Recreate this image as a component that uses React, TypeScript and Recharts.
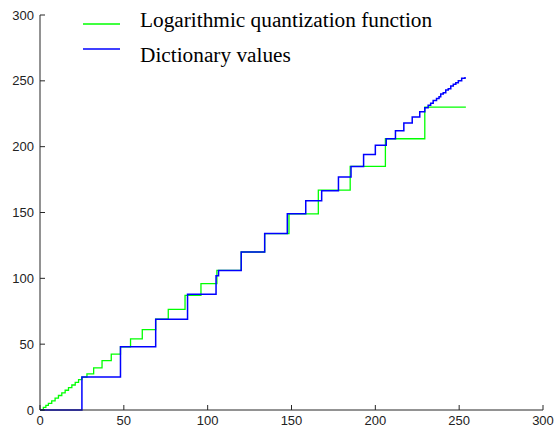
import React from 'react';
import { LineChart, Line, XAxis, YAxis } from 'recharts';

const xTicks = [0, 50, 100, 150, 200, 250, 300];
const yTicks = [0, 50, 100, 150, 200, 250, 300];

// logarithmic quantization function (step starts)
const greenX = [0, 2, 3.5, 5, 7, 9, 11, 13, 15, 17, 19, 21, 23, 25, 28, 32, 37, 42.5, 48, 54, 61, 69, 76.5, 86.5, 96, 105.5, 120, 134, 148.5, 166, 185, 206, 229.5, 254];
const greenY = [0, 2, 3.5, 5, 7, 9, 11, 13, 15, 17, 19, 21, 23, 25, 27.5, 32, 37.5, 42.5, 48, 54, 61, 69, 76.5, 87, 96, 106, 120, 134, 149, 167, 185, 206, 230, 230];

// dictionary values (step starts)
const blueX = [0, 25, 48, 69, 88, 105, 106.5, 120, 134, 147.5, 158.5, 168, 178, 185.5, 193, 200, 206.5, 212, 217, 222, 226.5, 229.5, 231.5, 233, 234.5, 236.5, 238, 239, 240.5, 242, 243.5, 245, 246.5, 248, 249.5, 251.5, 253.5];
const blueY = [0, 25, 48, 69, 88, 102, 106, 120, 134, 149, 159, 166.5, 177, 185, 194, 201, 206, 212, 218, 222.5, 226.5, 229.5, 231.5, 233, 235, 236.5, 238, 240, 241, 243, 244, 246, 247.5, 248.5, 250, 252, 253];

const legendLabels = ['Logarithmic quantization function', 'Dictionary values'];

const greenData = greenX.map((x, i) => ({ x, y: greenY[i] }));
const blueData = blueX.map((x, i) => ({ x, y: blueY[i] }));

const axisColor = '#262626';
const tickFont = { fontFamily: '"Liberation Sans", Arial, sans-serif', fontSize: 13, fill: '#222' };

const XTick = (props: any) => {
  const { x, y, payload } = props;
  return (
    <g>
      <line x1={x} x2={x} y1={y - 6} y2={y - 11} stroke={axisColor} />
      <text x={x} y={y} dy="0.71em" textAnchor="middle" {...tickFont}>{payload.value}</text>
    </g>
  );
};

const YTick = (props: any) => {
  const { x, y, payload } = props;
  return (
    <g>
      <line x1={x + 6} x2={x + 11} y1={y} y2={y} stroke={axisColor} />
      <text x={x} y={y} dy="0.355em" textAnchor="end" {...tickFont}>{payload.value}</text>
    </g>
  );
};

export default function App() {
  return (
    <div style={{ position: 'absolute', left: 0, top: 0, width: 555, height: 433, background: '#fff' }}>
      <LineChart width={555} height={433} margin={{ top: 15, right: 12, bottom: 0, left: 0 }}>
        <XAxis
          type="number"
          dataKey="x"
          domain={[0, 300]}
          ticks={xTicks}
          height={23}
          tickSize={0}
          tickMargin={6}
          tickLine={false}
          axisLine={{ stroke: axisColor }}
          tick={<XTick />}
          allowDuplicatedCategory={false}
        />
        <YAxis
          type="number"
          dataKey="y"
          domain={[0, 300]}
          ticks={yTicks}
          width={40}
          tickSize={0}
          tickMargin={6}
          tickLine={false}
          axisLine={{ stroke: axisColor }}
          tick={<YTick />}
        />
        <Line data={greenData} dataKey="y" type="stepAfter" stroke="#00ff00" strokeWidth={1.3} dot={false} isAnimationActive={false} />
        <Line data={blueData} dataKey="y" type="stepAfter" stroke="#0000ff" strokeWidth={1.5} dot={false} isAnimationActive={false} />
      </LineChart>
      <svg width={555} height={80} style={{ position: 'absolute', left: 0, top: 0, pointerEvents: 'none' }}>
        <line x1={83} x2={120} y1={24} y2={24} stroke="#00ff00" strokeWidth={1.3} />
        <text x={140} y={27} fontFamily='"Liberation Serif", "Times New Roman", serif' fontSize={21.3} fill="#000">{legendLabels[0]}</text>
        <line x1={83} x2={120} y1={49} y2={49} stroke="#0000ff" strokeWidth={1.3} />
        <text x={140} y={62} fontFamily='"Liberation Serif", "Times New Roman", serif' fontSize={21.3} fill="#000">{legendLabels[1]}</text>
      </svg>
    </div>
  );
}
